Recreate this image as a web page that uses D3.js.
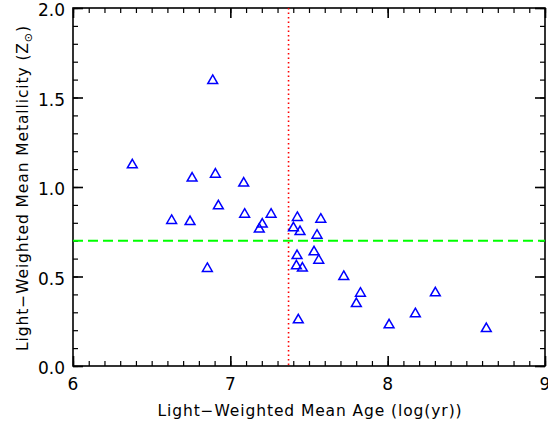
<!DOCTYPE html>
<html lang="en">
<head>
  <meta charset="UTF-8">
  <title>Metallicity vs Age</title>
  <script src="https://d3js.org/d3.v7.min.js"></script>
  <style>
    html, body { margin: 0; padding: 0; background: #fff; overflow: hidden; }
    text { font-family: "DejaVu Sans", sans-serif; fill: #000; }
  </style>
</head>
<body>
  <div id="chart"></div>
  <script>
    // light-weighted mean age (log yr) and metallicity (Z_sun)
    const ages = [6.377, 6.888, 6.757, 6.905, 6.924, 6.627, 6.744, 6.854, 7.085, 7.091,
      7.259, 7.203, 7.184, 7.426, 7.575, 7.401, 7.443, 7.551, 7.532, 7.424,
      7.562, 7.420, 7.458, 7.432, 7.721, 7.827, 7.801, 8.009, 8.303, 8.176, 8.627];
    const metals = [1.123, 1.594, 1.049, 1.071, 0.894, 0.812, 0.806, 0.544, 1.021, 0.847,
      0.847, 0.792, 0.764, 0.829, 0.819, 0.771, 0.750, 0.730, 0.637, 0.616,
      0.590, 0.559, 0.546, 0.257, 0.499, 0.406, 0.348, 0.229, 0.408, 0.291, 0.208];
    const xTicks = [6, 7, 8, 9];
    const yTicks = [0.0, 0.5, 1.0, 1.5, 2.0];
    const ageCut = [7.37];
    const metalCut = [0.7];

    const W = 548, H = 422;
    const m = {left: 73, right: 3, top: 8, bottom: 56};

    const svg = d3.select('#chart').append('svg')
      .attr('width', W).attr('height', H);

    const x = d3.scaleLinear().domain([6, 9]).range([m.left, W - m.right]);
    const y = d3.scaleLinear().domain([0, 2]).range([H - m.bottom, m.top]);

    const minorX = d3.range(60, 91).map(d => d / 10);
    const minorY = d3.range(0, 21).map(d => d / 10);

    // axes on all four sides, IDL style: minor ticks then major ticks
    function addAxis(axisFn, scale, minor, major, transform) {
      const g = svg.append('g').attr('transform', transform);
      g.call(axisFn(scale).tickValues(minor).tickSize(5).tickFormat(''));
      g.select('.domain').remove();
      g.selectAll('.tick line').attr('stroke', '#000').attr('stroke-width', 1.2);
      const g2 = svg.append('g').attr('transform', transform);
      g2.call(axisFn(scale).tickValues(major).tickSize(10).tickFormat(''));
      g2.select('.domain').remove();
      g2.selectAll('.tick line').attr('stroke', '#000').attr('stroke-width', 1.6);
    }
    addAxis(s => d3.axisTop(s), x, minorX, xTicks, `translate(0,${H - m.bottom})`);
    addAxis(s => d3.axisBottom(s), x, minorX, xTicks, `translate(0,${m.top})`);
    addAxis(s => d3.axisRight(s), y, minorY, yTicks, `translate(${m.left},0)`);
    addAxis(s => d3.axisLeft(s), y, minorY, yTicks, `translate(${W - m.right},0)`);

    svg.append('rect')
      .attr('x', m.left).attr('y', m.top)
      .attr('width', W - m.right - m.left).attr('height', H - m.bottom - m.top)
      .attr('fill', 'none').attr('stroke', '#000').attr('stroke-width', 1.6);

    // tick labels
    svg.selectAll('.xlab').data(xTicks).enter().append('text')
      .attr('x', d => x(d)).attr('y', H - m.bottom + 24)
      .attr('text-anchor', 'middle').attr('font-size', 17)
      .text(d => d);
    svg.selectAll('.ylab').data(yTicks).enter().append('text')
      .attr('x', m.left - 8).attr('y', d => y(d) + 8)
      .attr('text-anchor', 'end').attr('font-size', 17)
      .text(d => d.toFixed(1));

    // axis titles
    svg.append('text')
      .attr('x', (m.left + W - m.right) / 2 + 1).attr('y', 416)
      .attr('text-anchor', 'middle').attr('font-size', 15.5)
      .attr('letter-spacing', 0.9)
      .text('Light\u2212Weighted Mean Age (log(yr))');
    const yt = svg.append('text')
      .attr('transform', `translate(28,${(m.top + H - m.bottom) / 2 + 1}) rotate(-90)`)
      .attr('text-anchor', 'middle').attr('font-size', 15.5)
      .attr('letter-spacing', 0.9);
    yt.append('tspan').text('Light\u2212Weighted Mean Metallicity (Z');
    yt.append('tspan').attr('font-size', 11).attr('dy', 4).text('\u2299');
    yt.append('tspan').attr('dy', -4).text(')');

    // reference lines
    svg.selectAll('.vcut').data(ageCut).enter().append('line')
      .attr('x1', d => x(d)).attr('x2', d => x(d))
      .attr('y1', m.top).attr('y2', H - m.bottom)
      .attr('stroke', '#ff0000').attr('stroke-width', 1.6)
      .attr('stroke-dasharray', '1.5,3');
    svg.selectAll('.hcut').data(metalCut).enter().append('line')
      .attr('x1', m.left).attr('x2', W - m.right)
      .attr('y1', d => y(d)).attr('y2', d => y(d))
      .attr('stroke', '#00ff00').attr('stroke-width', 2)
      .attr('stroke-dasharray', '10,5');

    // triangles
    const tri = d3.symbol().type(d3.symbolTriangle).size(42);
    svg.selectAll('.pt').data(ages).enter().append('path')
      .attr('d', tri)
      .attr('transform', (d, i) => `translate(${x(d)},${y(metals[i])})`)
      .attr('fill', 'none').attr('stroke', '#0000ff').attr('stroke-width', 1.5);
  </script>
</body>
</html>
